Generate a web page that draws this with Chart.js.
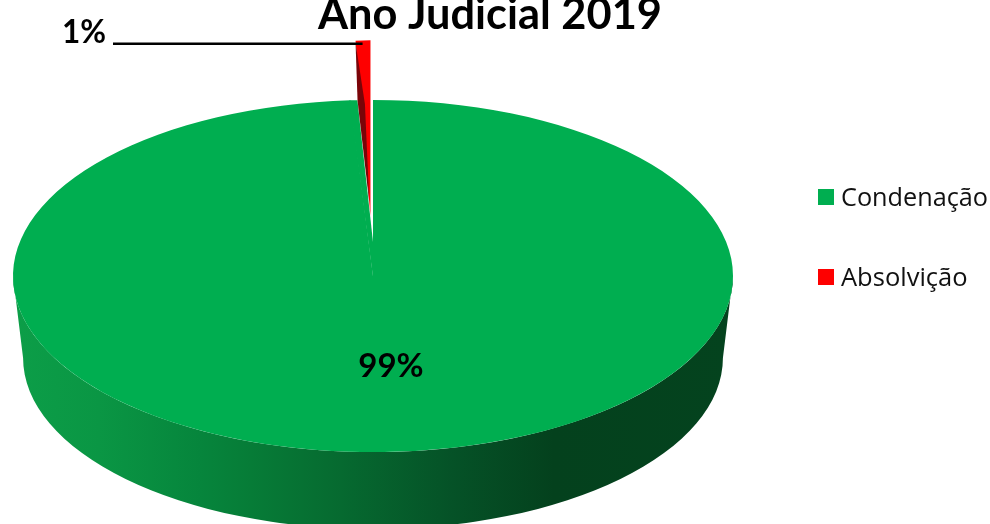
<!DOCTYPE html>
<html lang="pt">
<head>
<meta charset="utf-8">
<title>Ano Judicial 2019</title>
<script src="https://cdnjs.cloudflare.com/ajax/libs/Chart.js/4.4.1/chart.umd.min.js"></script>
<style>
  html, body { margin: 0; padding: 0; background: #fff; }
  canvas { display: block; }
</style>
</head>
<body>
<canvas id="chart-sentencas" width="990" height="524"></canvas>
<script>
// ── DATA ──
const categories = ['Condenação', 'Absolvição'];
const shares = [99, 1];
const shareLabels = ['99%', '1%'];
const sliceColors = ['#00ae50', '#fe0000'];
const chartTitle = 'Ano Judicial 2019';

// ── 3D look: the pie is squashed and given a side wall ──
const SQUASH = 0.489;       // top ellipse height / width
const WALL_DROP = 82;       // bottom ellipse sits this far below the top one
const WALL_SHRINK = 0.972;  // bottom ellipse is a bit narrower (perspective)
const RED_NARROW = 0.66;    // far slice looks narrower
const EXPLODE = 122;        // how far the small slice is pulled out

function drawWall(ctx, el) {
  const rx = el.outerRadius, ry = rx * SQUASH;
  const grad = ctx.createLinearGradient(el.x - rx, 0, el.x + rx, 0);
  grad.addColorStop(0, '#0c9e48');
  grad.addColorStop(0.12, '#0a9644');
  grad.addColorStop(0.26, '#06853c');
  grad.addColorStop(0.33, '#067c37');
  grad.addColorStop(0.455, '#066a30');
  grad.addColorStop(0.61, '#055227');
  grad.addColorStop(0.75, '#04411d');
  grad.addColorStop(1, '#04431e');
  ctx.save();
  ctx.fillStyle = grad;
  ctx.beginPath();
  ctx.ellipse(el.x, el.y, rx, ry, 0, 0, Math.PI);
  ctx.ellipse(el.x, el.y + WALL_DROP, rx * WALL_SHRINK, ry * WALL_SHRINK, 0, Math.PI, 0, true);
  ctx.closePath();
  ctx.fill();
  ctx.restore();
}

function drawSquashed(ctx, el, sx, pull) {
  const mid = (el.startAngle + el.endAngle) / 2;
  ctx.save();
  ctx.translate(el.x, el.y);
  ctx.scale(sx, SQUASH);
  ctx.translate(Math.cos(mid) * pull, Math.sin(mid) * pull);
  ctx.translate(-el.x, -el.y);
  el.draw(ctx);
  ctx.restore();
}

// perspective pulls the apex of the gap up, so fill back the bottom of the wedge
function drawApexFill(ctx, green) {
  const r = green.outerRadius;
  const a = green.endAngle;
  const rimX = green.x + Math.cos(a) * r;
  const rimY = green.y + Math.sin(a) * r * SQUASH;
  ctx.save();
  ctx.fillStyle = sliceColors[0];
  ctx.beginPath();
  ctx.moveTo(rimX - 1, rimY);
  ctx.lineTo(rimX + 7, rimY);
  ctx.lineTo(green.x, green.y - 34);
  ctx.lineTo(green.x, green.y + 1);
  ctx.closePath();
  ctx.fill();
  ctx.restore();
}

function redGeometry(red) {
  const mid = (red.startAngle + red.endAngle) / 2;
  const tip = {
    x: red.x + Math.cos(mid) * EXPLODE * RED_NARROW,
    y: red.y + Math.sin(mid) * EXPLODE * SQUASH,
  };
  const rim = {
    x: tip.x + Math.cos(red.startAngle) * red.outerRadius * RED_NARROW,
    y: tip.y + Math.sin(red.startAngle) * red.outerRadius * SQUASH,
  };
  return { tip, rim };
}

// dark inner cut face of the exploded slice
function drawCutFace(ctx, red) {
  const { tip, rim } = redGeometry(red);
  const lerp = t => ({ x: rim.x + (tip.x - rim.x) * t, y: rim.y + (tip.y - rim.y) * t });
  const inner = lerp(0.36);
  const low = lerp(0.92);
  ctx.save();
  ctx.fillStyle = '#7a0408';
  ctx.beginPath();
  ctx.moveTo(rim.x, rim.y + 2);
  ctx.lineTo(rim.x + 2, rim.y + 60);
  ctx.lineTo(low.x, low.y);
  ctx.lineTo(inner.x + 4, inner.y);
  ctx.closePath();
  ctx.fill();
  ctx.restore();
}

const pie3d = {
  id: 'pie3d',
  beforeDatasetDraw(chart, args) {
    const ctx = chart.ctx;
    const [green, red] = args.meta.data;
    drawWall(ctx, green);
    drawSquashed(ctx, green, 1, 0);
    drawApexFill(ctx, green);
    drawSquashed(ctx, red, RED_NARROW, EXPLODE);
    drawCutFace(ctx, red);
    return false;
  },
};

const textLayer = {
  id: 'textLayer',
  afterDraw(chart) {
    const ctx = chart.ctx;
    const [green, red] = chart.getDatasetMeta(0).data;
    const { rim } = redGeometry(red);
    ctx.save();
    ctx.fillStyle = '#000';
    ctx.textBaseline = 'alphabetic';

    // title is cut by the top of the picture in the original
    ctx.textAlign = 'center';
    ctx.font = "bold 43.5px Lato, sans-serif";
    ctx.fillText(chartTitle, 490, 29, 344);

    // value labels
    ctx.font = "bold 33px Lato, sans-serif";
    ctx.fillText(shareLabels[0], green.x + 18, 377, 66);
    ctx.textAlign = 'left';
    ctx.fillText(shareLabels[1], 62, 43, 44);

    // leader line
    ctx.strokeStyle = '#000';
    ctx.lineWidth = 2.5;
    ctx.beginPath();
    ctx.moveTo(113, rim.y + 3);
    ctx.lineTo(rim.x + 7, rim.y + 3);
    ctx.stroke();

    // legend
    ctx.font = "25.5px 'Open Sans', sans-serif";
    ctx.textBaseline = 'middle';
    const legendY = [197, 277];
    const legendW = [147, 127];
    categories.forEach((name, i) => {
      ctx.fillStyle = sliceColors[i];
      ctx.fillRect(818, legendY[i] - 8, 16, 16);
      ctx.fillStyle = '#111';
      ctx.fillText(name, 841, legendY[i] + 2, legendW[i]);
    });
    ctx.restore();
  },
};

new Chart(document.getElementById('chart-sentencas'), {
  type: 'pie',
  data: {
    labels: categories,
    datasets: [{
      data: shares,
      backgroundColor: sliceColors,
      borderWidth: 0,
      clip: false,
    }]
  },
  options: {
    responsive: false,
    animation: false,
    radius: 360,
    layout: { padding: { top: 28, right: 244, bottom: 0, left: 0 } },
    plugins: {
      legend: { display: false },
      title: { display: false },
      tooltip: { enabled: false },
    }
  },
  plugins: [pie3d, textLayer]
});
</script>
</body>
</html>
